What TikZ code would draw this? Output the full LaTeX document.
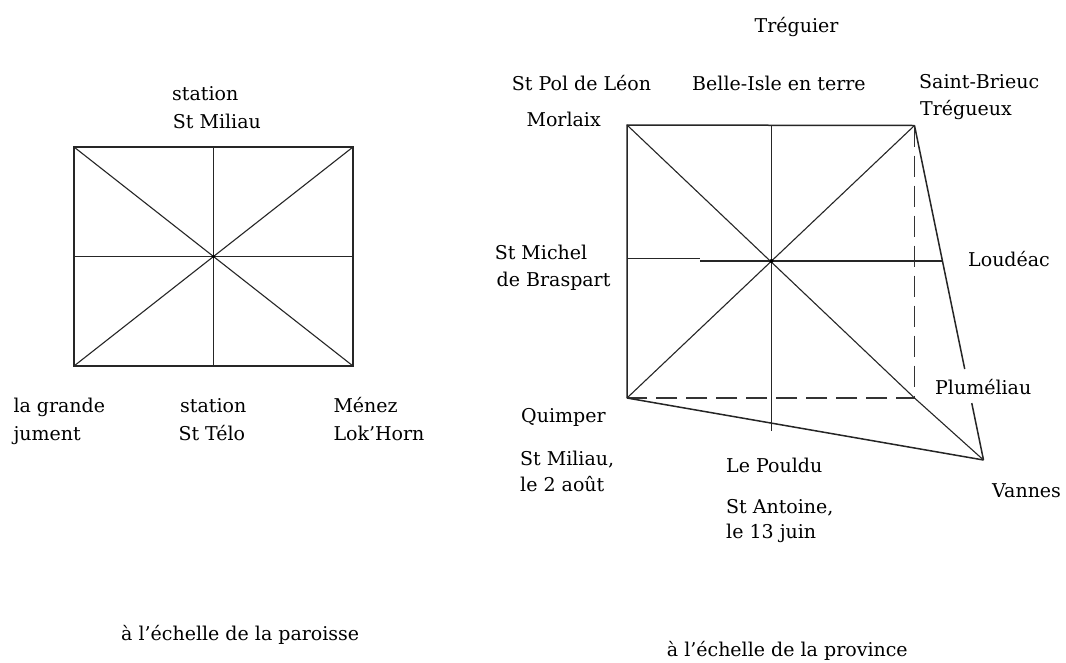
\documentclass[tikz,border=0pt]{standalone}
\usepackage{fontspec}
\setmainfont{DejaVu Serif}
\usetikzlibrary{calc}
\begin{document}
\begin{tikzpicture}[x=1pt,y=-1pt,
  lbl/.style={anchor=base west, inner sep=0pt, font=\fontsize{19}{23}\selectfont},
  frame/.style={line width=1.5pt, draw=black!85},
  thinline/.style={line width=1.1pt, draw=black!85},
  dashline/.style={line width=1.5pt, draw=black!80, dash pattern=on 21pt off 9pt}]
\useasboundingbox[fill=white] (0,0) rectangle (1066,662);

% ---------- left diagram ----------
\coordinate (LTL) at (74,147);
\coordinate (LTR) at (353,147);
\coordinate (LBL) at (74,366);
\coordinate (LBR) at (353,366);
\coordinate (LC) at (213.5,256.5);
\coordinate (LT) at (213.5,147);
\coordinate (LB) at (213.5,366);
\coordinate (LL) at (74,256.5);
\coordinate (LR) at (353,256.5);

\draw[frame] (LTL) rectangle (LBR);
\draw[frame] (LT) -- (LB);
\draw[frame] (LL) -- (LR);
\draw[thinline] (LTL) -- (LBR);
\draw[thinline] (LTR) -- (LBL);
\fill[black] (LC) circle (1.8pt);

\node[lbl] (t1) at (172,100.7) {station};
\node[lbl] (t2) at (172.7,128.3) {St Miliau};
\node[lbl] (t3) at (13.3,412) {la grande};
\node[lbl] (t4) at (13.3,440) {jument};
\node[lbl] (t5) at (180,412) {station};
\node[lbl] (t6) at (178.3,440) {St Télo};
\node[lbl] (t7) at (333.3,412) {Ménez};
\node[lbl] (t8) at (333.3,440) {Lok'Horn};

% ---------- right diagram ----------
\coordinate (RTL) at (627,125);
\coordinate (RTR) at (914.5,125.5);
\coordinate (RBL) at (627,398);
\coordinate (RBR) at (914.5,398);
\coordinate (RC) at (771.5,261);
\coordinate (V) at (983.5,460);
\coordinate (RT) at (771.5,125);
\coordinate (RB) at (771.5,431);
\coordinate (RL) at (627,258.5);
\coordinate (RS1) at (700,258.5);
\coordinate (RS2) at (700,261);
\coordinate (RR) at (943,261);

\draw[frame] (RBL) -- (RTL) -- (RTR);
\draw[dashline] (RTR) -- (RBR) -- (RBL);
\draw[thinline] (RTL) -- (RBR) -- (V);
\draw[thinline] (RTR) -- (RBL);
\draw[frame] (RT) -- (RB);
\draw[frame] (RL) -- (RS1) (RS2) -- (RR);
\draw[frame] (RBL) -- (V);
\draw[frame] (RTR) -- ($(RTR)!0.728!(V)$) ($(RTR)!0.83!(V)$) -- (V);
\fill[black] (RC) circle (2pt);

\node[lbl] (r1) at (754.4,32.3) {Tréguier};
\node[lbl] (r2) at (511.7,90.5) {St Pol de Léon};
\node[lbl] (r3) at (692,90) {Belle-Isle en terre};
\node[lbl] (r4) at (919,88) {Saint-Brieuc};
\node[lbl] (r5) at (920,115.5) {Trégueux};
\node[lbl] (r6) at (526.4,126) {Morlaix};
\node[lbl] (r7) at (494.6,259) {St Michel};
\node[lbl] (r8) at (496.5,286.6) {de Braspart};
\node[lbl] (r9) at (968,266) {Loudéac};
\node[lbl] (r10) at (935,394) {Pluméliau};
\node[lbl] (r11) at (521,422) {Quimper};
\node[lbl] (r12) at (520,465) {St Miliau,};
\node[lbl] (r13) at (520,491.5) {le 2 août};
\node[lbl] (r14) at (726,472) {Le Pouldu};
\node[lbl] (r15) at (726,513) {St Antoine,};
\node[lbl] (r16) at (726,538) {le 13 juin};
\node[lbl] (r17) at (992,497) {Vannes};

% ---------- captions ----------
\node[lbl] (c1) at (121,640) {à l'échelle de la paroisse};
\node[lbl] (c2) at (666.7,656) {à l'échelle de la province};
\end{tikzpicture}
\end{document}
